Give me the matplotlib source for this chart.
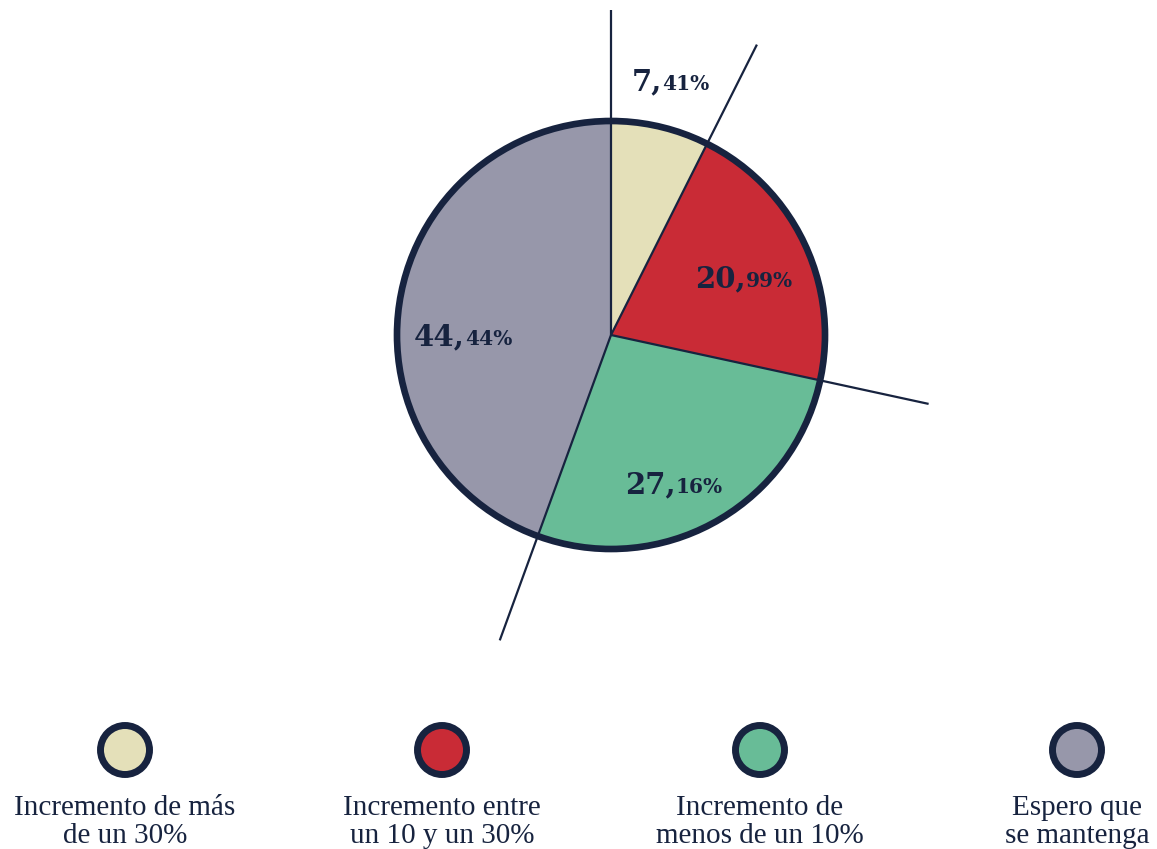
import numpy as np
import matplotlib
matplotlib.use("Agg")
import matplotlib.pyplot as plt
from matplotlib.patches import Circle

# Survey answers and shares (%)
categories = ["Incremento de más\nde un 30%",
              "Incremento entre\nun 10 y un 30%",
              "Incremento de\nmenos de un 10%",
              "Espero que\nse mantenga"]
values = [7.41, 20.99, 27.16, 44.44]
colors = ["#E4E0B9", "#C92B36", "#68BC97", "#9797AA"]
NAVY = "#17233F"

W, H = 1157, 849
fig = plt.figure(figsize=(W / 100, H / 100), dpi=100)
ax = fig.add_axes([0, 0, 1, 1])

cx, cy, r = 611, H - 335, 214
ax.pie(values, colors=colors, startangle=90, counterclock=False,
       center=(cx, cy), radius=r, frame=True, wedgeprops=dict(linewidth=0))
ax.set_xlim(0, W)
ax.set_ylim(0, H)
ax.set_aspect("equal")
ax.axis("off")

# Slice boundary rays extending beyond the rim
cum = np.concatenate([[0], np.cumsum(values)[:-1]])
ray = 325
for c in cum:
    ang = np.deg2rad(90 - 360 * c / 100)
    ax.plot([cx, cx + ray * np.cos(ang)], [cy, cy + ray * np.sin(ang)],
            color=NAVY, lw=1.6, solid_capstyle="butt", zorder=3)

# Thick rim
ax.add_patch(Circle((cx, cy), r, fill=False, ec=NAVY, lw=4.8, zorder=4))

# Value labels: large integer part, smaller decimal part
label_pos = [(662, H - 90), (746, H - 287), (676, H - 493), (465, H - 345)]
for v, (x, y) in zip(values, label_pos):
    ip, dp = f"{v:.2f}".split(".")
    ax.text(x, y, ip + ",", ha="right", va="baseline", fontsize=21,
            fontweight="bold", family="DejaVu Serif", color=NAVY, zorder=5)
    ax.text(x, y, dp + "%", ha="left", va="baseline", fontsize=14.5,
            fontweight="bold", family="DejaVu Serif", color=NAVY, zorder=5)

# Legend: ringed swatches with two-line captions beneath
leg_x = [125, 442, 760, 1077]
for x, col, lab in zip(leg_x, colors, categories):
    ax.add_patch(Circle((x, H - 750), 24.5, fc=col, ec=NAVY, lw=5, zorder=5))
    for k, line in enumerate(lab.split("\n")):
        ax.text(x, H - 815 - 28 * k, line, ha="center", va="baseline",
                fontsize=21, family="Liberation Serif", color=NAVY)

fig.savefig("out.png", dpi=100)
